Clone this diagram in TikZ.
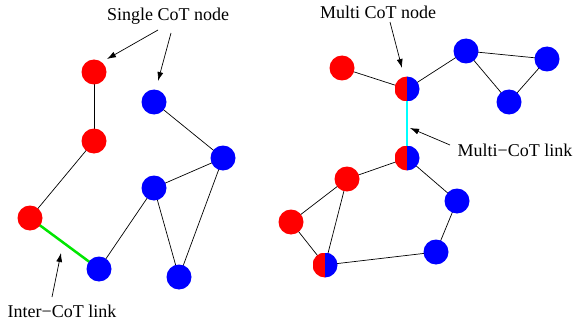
\documentclass[tikz,border=0pt]{standalone}
\usepackage{fontspec}
\setmainfont{Liberation Serif}
\usetikzlibrary{arrows.meta,backgrounds}
\definecolor{nred}{RGB}{255,0,0}
\definecolor{nblue}{RGB}{0,0,255}
\definecolor{ngreen}{RGB}{0,230,0}
\definecolor{ncyan}{RGB}{0,255,255}
\tikzset{
  dot/.style={circle,minimum size=25pt,inner sep=0pt},
  rnode/.style={dot,fill=nred},
  bnode/.style={dot,fill=nblue},
  mnode/.style={dot,path picture={
     \fill[nred] (path picture bounding box.south west) rectangle (path picture bounding box.north);
     \fill[nblue] (path picture bounding box.south) rectangle (path picture bounding box.north east);}},
  edge/.style={line width=0.7pt,black},
  interlink/.style={line width=2.5pt,ngreen},
  multilink/.style={line width=2.5pt,ncyan},
  pointer/.style={line width=0.7pt,-{Latex[length=9pt,width=6pt]}},
  lbl/.style={font=\fontsize{18}{20}\selectfont,inner sep=0pt}
}
\begin{document}
\begin{tikzpicture}[x=1pt,y=-1pt]
\useasboundingbox (0,0) rectangle (576,321);
% left group
\node[rnode] (r1) at (94,72) {};
\node[rnode] (r2) at (94,141) {};
\node[rnode] (r3) at (30,218) {};
\node[bnode] (b1) at (154,102) {};
\node[bnode] (b2) at (223,158) {};
\node[bnode] (b3) at (154,188) {};
\node[bnode] (b4) at (99,269) {};
\node[bnode] (b5) at (179,277) {};
% right group
\node[rnode] (r4) at (342,68) {};
\node[mnode] (m1) at (407,89) {};
\node[bnode] (b6) at (466,51) {};
\node[bnode] (b7) at (547,59) {};
\node[bnode] (b8) at (509,102) {};
\node[mnode] (m2) at (407,158) {};
\node[rnode] (r5) at (347,179) {};
\node[bnode] (b9) at (457,201) {};
\node[rnode] (r6) at (291,222) {};
\node[bnode] (b10) at (436,252) {};
\node[mnode] (m3) at (325,265) {};
\begin{scope}[on background layer]
\draw[edge] (r1.center) -- (r2.center);
\draw[edge] (r2.center) -- (r3.center);
\draw[interlink] (r3.center) -- (b4.center);
\draw[edge] (b4.center) -- (b3.center);
\draw[edge] (b3.center) -- (b2.center);
\draw[edge] (b1.center) -- (b2.center);
\draw[edge] (b3.center) -- (b5.center);
\draw[edge] (b2.center) -- (b5.center);
\draw[edge] (r4.center) -- (m1.center);
\draw[edge] (m1.center) -- (b6.center);
\draw[edge] (b6.center) -- (b7.center);
\draw[edge] (b6.center) -- (b8.center);
\draw[edge] (b8.center) -- (b7.center);
\draw[multilink] (m1.center) -- (m2.center);
\draw[edge] (m2.center) -- (r5.center);
\draw[edge] (m2.center) -- (b9.center);
\draw[edge] (r5.center) -- (r6.center);
\draw[edge] (r5.center) -- (m3.center);
\draw[edge] (r6.center) -- (m3.center);
\draw[edge] (m3.center) -- (b10.center);
\draw[edge] (b9.center) -- (b10.center);
\end{scope}
% labels
\node[lbl] (lsingle) at (168,16) {Single CoT node};
\node[lbl] (lmulti) at (378,12) {Multi CoT node};
\node[lbl] (lmlink) at (515,150) {Multi−CoT link};
\node[lbl] (linter) at (62,311) {Inter−CoT link};
\coordinate (s1a) at (158,30); \coordinate (s1b) at (107,59);
\coordinate (s2a) at (171,33); \coordinate (s2b) at (158,81);
\coordinate (ma) at (390,22); \coordinate (mb) at (402,68);
\coordinate (la) at (450,145); \coordinate (lb) at (410,128);
\coordinate (ia) at (52,297); \coordinate (ib) at (61,253);
\draw[pointer] (s1a) -- (s1b);
\draw[pointer] (s2a) -- (s2b);
\draw[pointer] (ma) -- (mb);
\draw[pointer] (la) -- (lb);
\draw[pointer] (ia) -- (ib);
\end{tikzpicture}
\end{document}
